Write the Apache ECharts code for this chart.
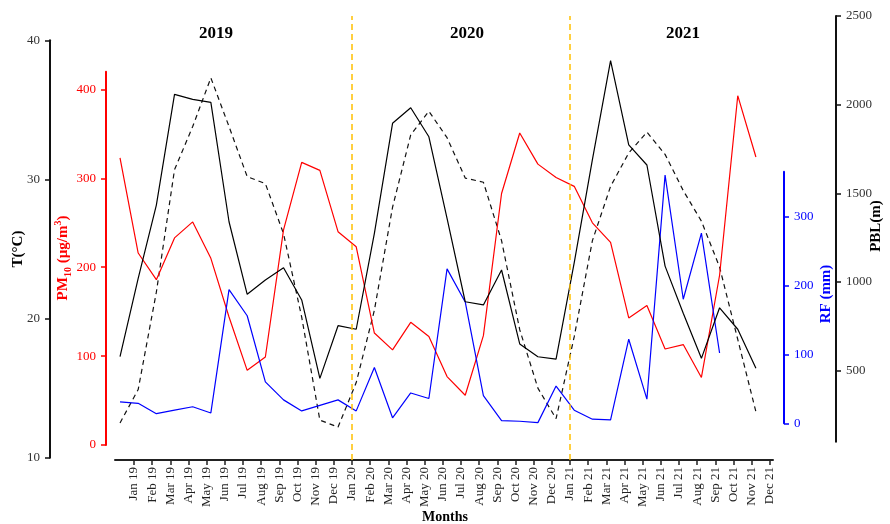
<!DOCTYPE html>
<html><head><meta charset="utf-8">
<script src="https://cdn.jsdelivr.net/npm/echarts@6/dist/echarts.min.js"></script>
<style>html,body{margin:0;padding:0;background:#fff}#c{width:890px;height:524px}</style>
</head><body><div id="c"></div>
<script>
// ---- data ----
const months = ['Jan 19','Feb 19','Mar 19','Apr 19','May 19','Jun 19','Jul 19','Aug 19','Sep 19','Oct 19','Nov 19','Dec 19',
  'Jan 20','Feb 20','Mar 20','Apr 20','May 20','Jun 20','Jul 20','Aug 20','Sep 20','Oct 20','Nov 20','Dec 20',
  'Jan 21','Feb 21','Mar 21','Apr 21','May 21','Jun 21','Jul 21','Aug 21','Sep 21','Oct 21','Nov 21','Dec 21'];
const years = ['2019','2020','2021'];
const pm10 = [323,216,186,233,251,210,144,84,99,242,318,309,
  240,223,126,107,138,122,77,56,123,283,351,316,
  301,291,250,228,143,157,108,113,76,191,393,324];
const rf = [31,29,14,19,24,15,194,156,60,34,18,26,
  34,18,81,8,44,36,224,176,40,4,3,1,
  54,19,6,5,122,35,360,180,276,102,null,null];
const pbl = [579,1021,1434,2058,2030,2013,1340,931,1012,1081,899,457,
  754,734,1275,1895,1983,1819,1359,889,871,1068,651,579,
  566,1110,1690,2248,1773,1660,1090,824,570,855,734,514];
const temp = [12.5,14.9,21.9,30.7,33.8,37.3,33.8,30.2,29.7,26.1,20.1,12.7,
  12.2,15.4,20.6,28.0,33.2,34.9,33.0,30.1,29.8,25.6,19.2,15.0,
  12.8,18.7,25.6,29.5,31.9,33.4,31.8,29.2,27.0,23.7,18.5,13.3];
const tTicks = [10,20,30,40];
const pmTicks = [0,100,200,300,400];
const rfTicks = [0,100,200,300];
const pblTicks = [500,1000,1500,2000,2500];
const yearMarks = [12,24];

// ---- layout ----
const FONT = '"Liberation Serif", "Times New Roman", serif';
const XMIN = -1.046, XMAX = 35.17, SHIFT = -0.77;
const idx = months.map((m,i)=>i);
const toPts = arr => arr.map((v,i)=>[i+SHIFT, v]);
const G = (top,bottom)=>({left:115,right:117,top:top,bottom:bottom,containLabel:false});
const hiddenX = g => ({type:'value',gridIndex:g,min:XMIN,max:XMAX,show:false});

const chart = echarts.init(document.getElementById('c'), null, {renderer:'canvas'});
const axisBase = (color, ticks, labelColor) => ({
  axisLine:{show:true,onZero:false,lineStyle:{color:color,width:2}},
  axisTick:{show:true,length:5,lineStyle:{color:color,width:1.5},customValues:ticks},
  axisLabel:{color:labelColor||color,fontFamily:FONT,fontSize:13,margin:10,customValues:ticks,
    formatter:v=>String(v)},
  splitLine:{show:false}
});

chart.setOption({
  animation:false,
  backgroundColor:'#fff',
  grid:[G(16,64),G(40.3,66.3),G(71.7,79),G(171.7,100.7),G(16,82.3)],
  xAxis:[
    {type:'value',gridIndex:0,min:XMIN,max:XMAX,
     axisLine:{show:true,onZero:false,lineStyle:{color:'#222',width:2}},
     axisTick:{show:true,length:5,lineStyle:{color:'#222',width:1.5},customValues:idx},
     axisLabel:{customValues:idx,rotate:90,margin:7,fontFamily:FONT,fontSize:13,color:'#222',
       formatter:v=>months[Math.round(v)]},
     splitLine:{show:false}},
    hiddenX(1),hiddenX(2),hiddenX(3),hiddenX(4)
  ],
  yAxis:[
    {type:'value',gridIndex:0,min:0,max:1,show:false},
    Object.assign({type:'value',gridIndex:1,position:'left',offset:65,min:10,max:40,interval:10}, axisBase('#111',tTicks,'#333')),
    Object.assign({type:'value',gridIndex:2,position:'left',offset:9,min:0,max:420}, axisBase('#ff0000',pmTicks)),
    Object.assign({type:'value',gridIndex:3,position:'right',offset:11,min:0,max:365}, axisBase('#0000ff',rfTicks)),
    Object.assign({type:'value',gridIndex:4,position:'right',offset:63,min:100,max:2500}, axisBase('#111',pblTicks,'#333'))
  ],
  series:[
    {type:'line',xAxisIndex:0,yAxisIndex:0,data:[],silent:true,
     markLine:{symbol:'none',silent:true,label:{show:false},
       lineStyle:{color:'#FFC000',type:[6,4],width:1.5},
       data:yearMarks.map(v=>({xAxis:v}))}},
    {name:'T',type:'line',xAxisIndex:1,yAxisIndex:1,data:toPts(temp),symbol:'none',
     lineStyle:{color:'#111',width:1.2,type:[5,4]}},
    {name:'PM10',type:'line',xAxisIndex:2,yAxisIndex:2,data:toPts(pm10),symbol:'none',
     lineStyle:{color:'#ff0000',width:1.2}},
    {name:'RF',type:'line',xAxisIndex:3,yAxisIndex:3,data:toPts(rf),symbol:'none',
     lineStyle:{color:'#0000ff',width:1.2}},
    {name:'PBL',type:'line',xAxisIndex:4,yAxisIndex:4,data:toPts(pbl),symbol:'none',
     lineStyle:{color:'#000',width:1.2}}
  ],
  graphic:[
    ...years.map((y,i)=>({type:'text',x:[216,467,683][i],y:34,
      style:{text:y,fill:'#000',font:'bold 17px '+FONT,align:'center',verticalAlign:'middle'}})),
    {type:'text',x:18,y:249,rotation:Math.PI/2,
     style:{text:'T(°C)',fill:'#000',font:'bold 15px '+FONT,align:'center',verticalAlign:'middle'}},
    {type:'text',x:63,y:258,rotation:Math.PI/2,
     style:{text:'{n|PM}{s|10}{n| (µg/m}{p|3}{n|)}',align:'center',verticalAlign:'middle',
       rich:{
         n:{fill:'#ff0000',fontFamily:FONT,fontWeight:'bold',fontSize:15,lineHeight:20},
         s:{fill:'#ff0000',fontFamily:FONT,fontWeight:'bold',fontSize:10,lineHeight:20,verticalAlign:'bottom'},
         p:{fill:'#ff0000',fontFamily:FONT,fontWeight:'bold',fontSize:10,lineHeight:20,verticalAlign:'top'}
       }}},
    {type:'text',x:826,y:294,rotation:Math.PI/2,
     style:{text:'RF (mm)',fill:'#0000ff',font:'bold 15px '+FONT,align:'center',verticalAlign:'middle'}},
    {type:'text',x:876,y:226,rotation:Math.PI/2,
     style:{text:'PBL(m)',fill:'#000',font:'bold 15px '+FONT,align:'center',verticalAlign:'middle'}},
    {type:'text',x:445,y:517,
     style:{text:'Months',fill:'#000',font:'bold 14px '+FONT,align:'center',verticalAlign:'middle'}}
  ]
});
</script></body></html>
